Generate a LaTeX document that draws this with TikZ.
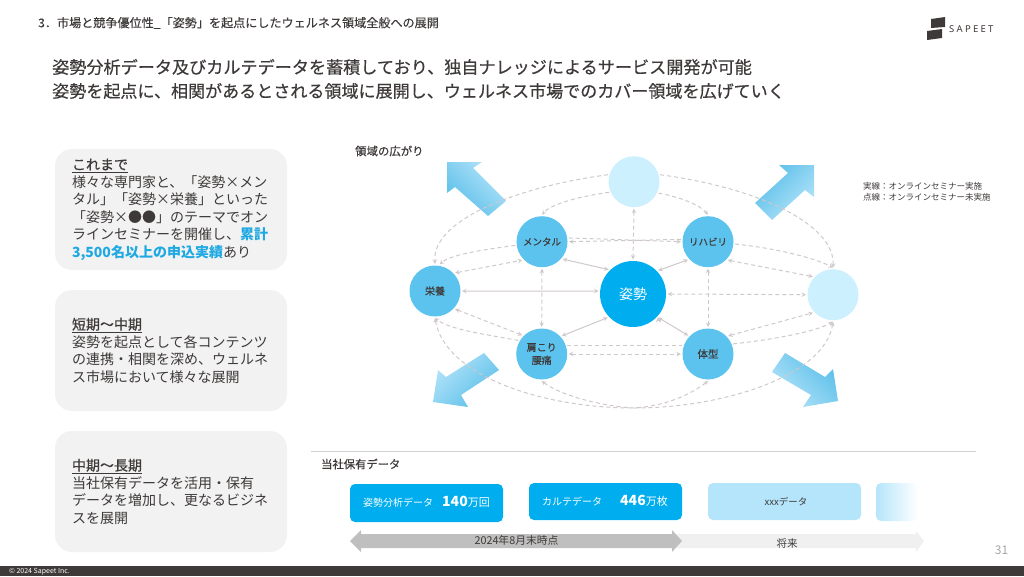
\documentclass[tikz,border=0pt]{standalone}
\usepackage{fontspec}
\setmainfont{Noto Sans CJK JP}
\newfontfamily\medfont[FakeBold=0.5]{Noto Sans CJK JP}
\newfontfamily\softfont[FakeBold=0.2]{Noto Sans CJK JP}
\newfontfamily\logofont[LetterSpace=24]{Noto Sans}
\usetikzlibrary{arrows}
\definecolor{ink}{HTML}{3E3A39}
\definecolor{mainblue}{HTML}{00AEEF}
\definecolor{midblue}{HTML}{5CC3EE}
\definecolor{paleblue}{HTML}{CCF0FD}
\definecolor{boxpale}{HTML}{B5E5FB}
\definecolor{arrowlight}{HTML}{B5E4F9}
\definecolor{arrowdark}{HTML}{59BEE9}
\definecolor{linkgray}{HTML}{CFC8CB}
\definecolor{hilite}{HTML}{1FA9E3}
\tikzset{c/.style={circle,fill=midblue,minimum size=51pt,inner sep=0pt,outer sep=1.5pt,align=center,text=ink,font=\fontsize{9.5}{13}\selectfont\softfont}}
\tikzset{p/.style={c,fill=paleblue}}
\tikzset{sol/.style={<->,linkgray,line width=1pt}}
\tikzset{dsh/.style={linkgray,line width=1pt,dash pattern=on 4pt off 3pt}}
\tikzset{card/.style={fill=black!5,rounded corners=17pt,minimum width=232pt,minimum height=121pt,text width=198pt,inner sep=0pt,align=left,text=ink,font=\fontsize{14}{17.5}\selectfont}}
\tikzset{databox/.style={fill=mainblue,rounded corners=5pt,minimum width=153pt,minimum height=37pt,inner sep=0pt}}
\tikzset{t/.style={inner sep=0pt,text=ink}}
\tikzset{big/.style={left color=arrowlight,right color=arrowdark}}
\begin{document}
\begin{tikzpicture}[x=1pt,y=-1pt,>=stealth,line join=round]
  \useasboundingbox (0,0) rectangle (1024,576);
  \node[t,anchor=west,font=\fontsize{12.1}{12}\selectfont\softfont] (header) at (38,23) {3．市場と競争優位性\_「姿勢」を起点にしたウェルネス領域全般への展開};
  \node[t,anchor=west,font=\fontsize{17.12}{17}\selectfont\medfont] (lead1) at (52,67) {姿勢分析データ及びカルテデータを蓄積しており、独自ナレッジによるサービス開発が可能};
  \node[t,anchor=west,font=\fontsize{17.05}{17}\selectfont\medfont] (lead2) at (52,91) {姿勢を起点に、相関があるとされる領域に展開し、ウェルネス市場でのカバー領域を広げていく};
  \fill[ink] (931,19)--(945,17)--(945,27)--(931,28)--cycle;
  \fill[ink] (927,31)--(942,29)--(942,38)--(927,40)--cycle;
  \node[t,anchor=west,font=\logofont\fontsize{9.5}{10}\selectfont] (logo) at (949,29) {SAPEET};
  \node[card] (card1) at (171,209.5) {\underline{\medfont これまで}\\様々な専門家と、「姿勢×メン\\タル」「姿勢×栄養」といった\\「姿勢×●●」のテーマでオン\\ラインセミナーを開催し、{\bfseries\color{hilite}累計}\\{\bfseries\color{hilite}3,500名以上の申込実績}あり};
  \node[card] (card2) at (171,350.5) {\underline{\medfont 短期〜中期}\\姿勢を起点として各コンテンツ\\の連携・相関を深め、ウェルネ\\ス市場において様々な展開};
  \node[card] (card3) at (171,491.5) {\underline{\medfont 中期〜長期}\\当社保有データを活用・保有\\データを増加し、更なるビジネ\\スを展開};
  \node[t,anchor=west,font=\fontsize{11.4}{12}\selectfont\medfont] (area) at (355,151) {領域の広がり};
  \node[t,anchor=north west,align=left,font=\fontsize{8.5}{11}\selectfont] (legend) at (863,182) {実線：オンラインセミナー実施\\点線：オンラインセミナー未実施};
  \shade[big,shading angle=315] (447,162)--(482,162)--(473,168)--(506,201)--(488,216)--(455,187)--(447,193)--cycle;
  \shade[big,shading angle=225] (814,165)--(814,197)--(805,190)--(772,220)--(755,203)--(788,173)--(779,165)--cycle;
  \shade[big,shading angle=45] (433,402)--(468,407)--(461,395)--(499,370)--(484,353)--(446,377)--(438,370)--cycle;
  \shade[big,shading angle=135] (838,401)--(803,407)--(811,395)--(772,372)--(785,353)--(825,377)--(833,369)--cycle;
  \node[c,fill=mainblue,minimum size=66pt,text=white,font=\fontsize{14}{14}\selectfont] (zhi) at (633,294) {姿勢};
  \node[c] (mental) at (542,241.7) {メンタル};
  \node[c] (rihabiri) at (708,241.7) {リハビリ};
  \node[c,font=\fontsize{10}{13}\selectfont\softfont] (eiyou) at (435,291) {栄養};
  \node[c,font=\fontsize{10}{13}\selectfont\softfont] (kata) at (541.7,354) {肩こり\\腰痛};
  \node[c,font=\fontsize{10.5}{13}\selectfont\softfont] (taikei) at (708,354) {体型};
  \node[p] (upper) at (634,181.7) {};
  \node[p] (outer) at (833,294.7) {};
  \coordinate (btm) at (634,408);
  \draw[sol] (eiyou.0) edge (zhi.175) (zhi.135) edge (mental.-40) (zhi.43) edge (rihabiri.222) (zhi.-137) edge (kata.42) (zhi.-43) edge (taikei.137);
  \begin{scope}[dsh]
    \draw[<->] (upper.-90) -- (zhi.90);
    \draw[<->] (zhi.0) -- (outer.180);
    \draw[<->] (mental.-90) -- (kata.90);
    \draw[<->] (rihabiri.-90) -- (taikei.90);
    \draw[->] (rihabiri.175) -- (mental.0);
    \draw[->] (mental.8) -- (rihabiri.180);
    \draw (kata.18) -- (taikei.162);
    \draw[<->] (kata.0) -- (taikei.180);
    \draw[<->] (eiyou.42) -- (mental.223);
    \draw[<->] (eiyou.-42) -- (kata.136);
    \draw[<->] (rihabiri.-43) -- (outer.138);
    \draw[<->] (taikei.42) -- (outer.222);
    \draw[->] (upper.203) .. controls (575,197) and (550,205) .. (mental.90);
    \draw[->] (upper.-25) .. controls (680,197) and (700,205) .. (rihabiri.90);
    \draw[->] (upper.165) .. controls (510,188) and (432,222) .. (eiyou.90);
    \draw[->] (upper.15) .. controls (760,188) and (835,225) .. (outer.90);
    \draw[->] (mental.188) .. controls (480,250) and (450,255) .. (eiyou.80);
    \draw[->] (rihabiri.-5) .. controls (775,248) and (815,258) .. (outer.90);
    \draw[->] (kata.150) .. controls (490,335) and (450,330) .. (eiyou.-90);
    \draw[->] (taikei.22) .. controls (770,340) and (815,332) .. (outer.-90);
    \draw[<->] (eiyou.-90) .. controls (445,375) and (540,408) .. (btm) .. controls (725,408) and (825,375) .. (outer.-90);
    \draw[<-] (kata.-90) .. controls (560,395) and (600,406) .. (btm);
    \draw[<-] (taikei.-90) .. controls (690,395) and (665,406) .. (btm);
  \end{scope}
  \draw[black!18,line width=1pt] (311,451) -- (976,451);
  \node[t,anchor=west,font=\fontsize{11.3}{11}\selectfont\medfont] (owned) at (321,464) {当社保有データ};
  \node[databox,minimum height=38pt] (box1) at (426.5,503) {};
  \node[databox] (box2) at (605.5,501.5) {};
  \node[databox,fill=boxpale] (box3) at (784.5,501.5) {};
  \shade[left color=boxpale,right color=white,rounded corners=5pt] (876,483) rectangle (918,521);
  \node[t,anchor=west,text=white,font=\fontsize{10}{10}\selectfont] (pose) at (363,503) {姿勢分析データ};
  \node[t,anchor=west,text=white,font=\fontsize{11}{11}\selectfont] (pose2) at (442,502) {{\fontsize{14}{14}\selectfont\bfseries 140}万回};
  \node[t,anchor=west,text=white,font=\fontsize{10}{10}\selectfont] (karte) at (542,502) {カルテデータ};
  \node[t,anchor=west,text=white,font=\fontsize{11}{11}\selectfont] (karte2) at (620,501) {{\fontsize{14}{14}\selectfont\bfseries 446}万枚};
  \node[t,font=\fontsize{9.5}{10}\selectfont] (xxx) at (786,502) {xxxデータ};
  \fill[black!6] (672,534)--(916,534)--(916,531)--(924,541)--(916,552)--(916,548)--(672,548)--cycle;
  \fill[black!25] (350,541)--(361,530)--(361,534)--(672,534)--(672,530)--(682,541)--(672,552)--(672,548)--(361,548)--(361,552)--cycle;
  \node[t,font=\fontsize{10.8}{11}\selectfont] (now) at (516.5,540.5) {2024年8月末時点};
  \node[t,font=\fontsize{10.5}{11}\selectfont] (future) at (787,543.5) {将来};
  \node[t,text=black!35,font=\fontsize{12}{12}\selectfont] (pageno) at (1001.5,550) {31};
  \fill[ink] (0,566) rectangle (1024,576);
  \node[t,anchor=west,text=white,font=\fontsize{7}{7}\selectfont] (copy) at (9,571.2) {© 2024 Sapeet Inc.};
\end{tikzpicture}
\end{document}
